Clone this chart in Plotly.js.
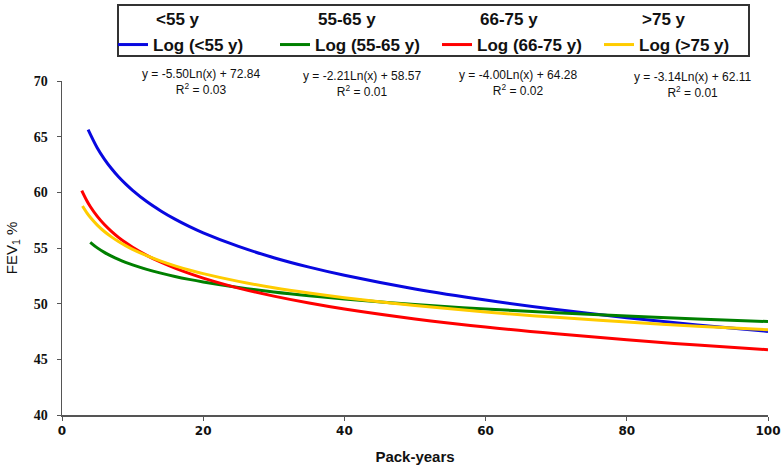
<!DOCTYPE html>
<html>
<head>
<meta charset="utf-8">
<script src="https://cdn.plot.ly/plotly-3.0.1.min.js"></script>
<style>html,body{margin:0;padding:0;background:#fff;}#chart{width:784px;height:474px;}</style>
</head>
<body>
<div id="chart"></div>
<script>
// Data (FEV1 % vs pack-years, log fits by age group)
const groupNames = ['<55 y', '55-65 y', '66-75 y', '>75 y'];
const fitNames = ['Log (<55 y)', 'Log (55-65 y)', 'Log (66-75 y)', 'Log (>75 y)'];
const colors = ['#0808e0', '#008000', '#ff0000', '#ffcc00'];

const xBlue   = [3.7, 5, 6, 7, 8, 9, 10, 12, 14, 16, 18, 20, 25, 30, 35, 40, 50, 60, 70, 80, 90, 100];
const yBlue   = [65.64, 63.99, 62.99, 62.14, 61.40, 60.76, 60.18, 59.17, 58.33, 57.59, 56.94, 56.36, 55.14, 54.13, 53.28, 52.55, 51.32, 50.32, 49.47, 48.74, 48.09, 47.51];
const xGreen  = [4, 5, 6, 7, 8, 9, 10, 12, 14, 16, 18, 20, 25, 30, 35, 40, 50, 60, 70, 80, 90, 100];
const yGreen  = [55.51, 55.01, 54.61, 54.27, 53.97, 53.71, 53.48, 53.08, 52.74, 52.44, 52.18, 51.95, 51.46, 51.05, 50.71, 50.42, 49.92, 49.52, 49.18, 48.89, 48.62, 48.39];
const xRed    = [2.8, 3.5, 4, 5, 6, 7, 8, 9, 10, 12, 14, 16, 18, 20, 25, 30, 35, 40, 50, 60, 70, 80, 90, 100];
const yRed    = [60.16, 59.27, 58.73, 57.84, 57.11, 56.50, 55.96, 55.49, 55.07, 54.34, 53.72, 53.19, 52.72, 52.30, 51.40, 50.68, 50.06, 49.52, 48.63, 47.90, 47.29, 46.75, 46.28, 45.86];
const xYellow = [2.9, 3.5, 4, 5, 6, 7, 8, 9, 10, 12, 14, 16, 18, 20, 25, 30, 35, 40, 50, 60, 70, 80, 90, 100];
const yYellow = [58.77, 58.18, 57.76, 57.06, 56.48, 56.00, 55.58, 55.21, 54.88, 54.31, 53.82, 53.40, 53.03, 52.70, 52.00, 51.43, 50.95, 50.53, 49.83, 49.25, 48.77, 48.35, 47.98, 47.65];

const equations = [
  'y = -5.50Ln(x) + 72.84<br>R<sup>2</sup> = 0.03',
  'y = -2.21Ln(x) + 58.57<br>R<sup>2</sup> = 0.01',
  'y = -4.00Ln(x) + 64.28<br>R<sup>2</sup> = 0.02',
  'y = -3.14Ln(x) + 62.11<br>R<sup>2</sup> = 0.01'
];

const xTicks = [0, 20, 40, 60, 80, 100];
const yTicks = [40, 45, 50, 55, 60, 65, 70];

const fitX = [xBlue, xGreen, xRed, xYellow];
const fitY = [yBlue, yGreen, yRed, yYellow];

const traces = [];
groupNames.forEach((n) => {
  traces.push({
    x: [null], y: [null], type: 'scatter', mode: 'markers', name: n,
    marker: {size: 1, color: 'rgba(0,0,0,0)'},
    legend: 'legend', hoverinfo: 'skip'
  });
});
fitNames.forEach((n, i) => {
  traces.push({
    x: fitX[i], y: fitY[i], type: 'scatter', mode: 'lines', name: n,
    line: {color: colors[i], width: 3, shape: 'spline', smoothing: 1},
    legend: 'legend2'
  });
});

const PL = 62, PR = 768, PT = 81, PB = 415;
const px = (p) => (p - PL) / (PR - PL);
const py = (p) => (PB - p) / (PB - PT);

const eqPos = [[201, 82.5], [362, 84], [518, 83], [693, 84.5]];
const eqFont = {family: 'Liberation Sans, Arial, sans-serif', size: 12, color: '#111'};
const annotations = equations.map((t, i) => ({
  text: t, xref: 'paper', yref: 'paper',
  x: px(eqPos[i][0]), y: py(eqPos[i][1]), xanchor: 'center', yanchor: 'middle',
  showarrow: false, align: 'center', font: eqFont
}));

const legendFont = {family: 'Liberation Sans, Arial, sans-serif', size: 17, color: '#111', weight: 'bold'};

const layout = {
  width: 784, height: 474,
  margin: {l: PL, r: 784 - PR, t: PT, b: 474 - PB, pad: 0, autoexpand: false},
  paper_bgcolor: '#fff', plot_bgcolor: '#fff',
  showlegend: true,
  legend: {
    orientation: 'h', x: px(116), y: py(1.3), xanchor: 'left', yanchor: 'top',
    font: legendFont, bgcolor: 'rgba(0,0,0,0)', borderwidth: 0,
    entrywidth: 117, itemwidth: 30, traceorder: 'normal'
  },
  legend2: {
    orientation: 'h', x: px(113), y: py(27), xanchor: 'left', yanchor: 'top',
    font: legendFont, bgcolor: 'rgba(0,0,0,0)', borderwidth: 0,
    entrywidth: 117, itemwidth: 30, traceorder: 'normal'
  },
  xaxis: {
    range: [0, 100], tickmode: 'array', tickvals: xTicks, ticktext: xTicks.map(String),
    showgrid: false, zeroline: false, showline: true, linecolor: '#555', linewidth: 1.5,
    ticks: 'outside', ticklen: 4, tickcolor: '#555', tickwidth: 1,
    tickfont: {family: 'DejaVu Sans, Liberation Sans, sans-serif', size: 12, color: '#111', weight: 700},
    title: {text: 'Pack-years', standoff: 14,
      font: {family: 'Liberation Sans, Arial, sans-serif', size: 15, color: '#111', weight: 'bold'}},
    fixedrange: true
  },
  yaxis: {
    range: [40, 70], tickmode: 'array', tickvals: yTicks, ticktext: yTicks.map(String),
    showgrid: false, zeroline: false, showline: true, linecolor: '#555', linewidth: 1.5,
    ticks: 'outside', ticklen: 4, tickcolor: '#555', tickwidth: 1,
    tickfont: {family: 'Liberation Serif, DejaVu Serif, serif', size: 14, color: '#111', weight: 700},
    ticklabelstandoff: 6,
    title: {text: 'FEV<sub>1</sub> %', standoff: 12,
      font: {family: 'Liberation Sans, Arial, sans-serif', size: 15, color: '#111'}},
    fixedrange: true
  },
  shapes: [{
    type: 'rect', xref: 'paper', yref: 'paper',
    x0: px(118), x1: px(749), y0: py(56), y1: py(5),
    line: {color: '#333', width: 2}, fillcolor: 'rgba(0,0,0,0)'
  }],
  annotations: annotations
};

Plotly.newPlot('chart', traces, layout, {displayModeBar: false, staticPlot: true});
</script>
</body>
</html>
